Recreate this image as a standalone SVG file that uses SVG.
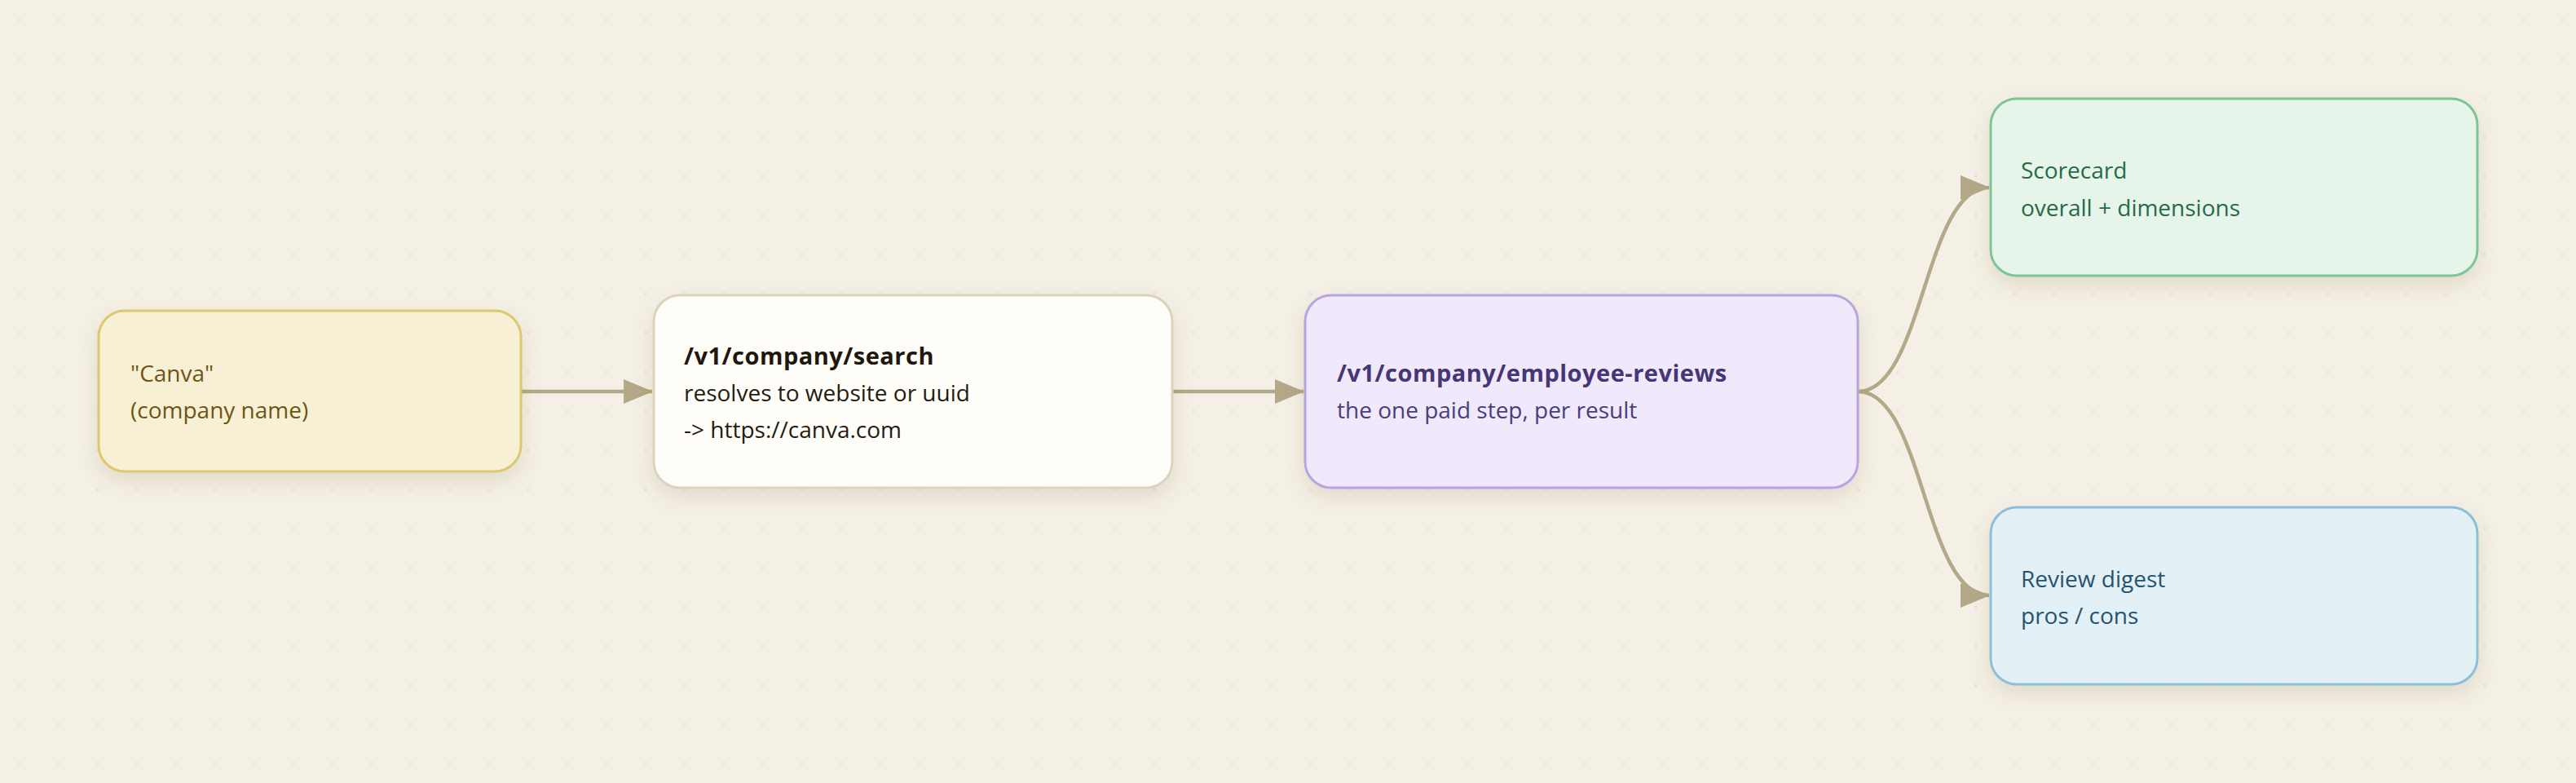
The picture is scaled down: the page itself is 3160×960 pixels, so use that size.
<svg xmlns="http://www.w3.org/2000/svg" width="3160" height="960" viewBox="0 0 3160 960">
<style>
text{font-family:"Open Sans","Noto Sans","DejaVu Sans",sans-serif;font-size:28px}
.t{font-weight:700;font-size:29px;letter-spacing:0.5px}
.edge{fill:none;stroke:#b3a887;stroke-width:4.5}
.node{stroke-width:3}
</style>
<defs>
<pattern id="dots" width="48" height="48" patternUnits="userSpaceOnUse">
<circle cx="24" cy="24" r="1.6" fill="#e3ddce"/>
</pattern>
<filter id="sh" x="-20%" y="-30%" width="140%" height="170%">
<feDropShadow dx="0" dy="10" stdDeviation="12" flood-color="#6b5a30" flood-opacity="0.15"/>
</filter>
<marker id="ah" viewBox="0 0 36 30" refX="35" refY="15" markerWidth="36" markerHeight="30" markerUnits="userSpaceOnUse" orient="auto">
<path d="M0,0 L36,15 L0,30 Z" fill="#b3a887"/>
</marker>
</defs>
<rect width="3160" height="960" fill="#f4f0e6"/>
<rect width="3160" height="960" fill="url(#dots)"/>
<g id="connectors">
<path class="edge" d="M639,480 L800,480" marker-end="url(#ah)"/>
<path class="edge" d="M1438,480 L1599,480" marker-end="url(#ah)"/>
<path class="edge" d="M2279,480 C2360,480 2360,230 2440,230" marker-end="url(#ah)"/>
<path class="edge" d="M2279,480 C2360,480 2360,730 2440,730" marker-end="url(#ah)"/>
</g>
<g id="n-input">
<rect class="node" x="121" y="381" width="518" height="197" rx="32" fill="#f8f0d4" stroke="#dcc870" filter="url(#sh)"/>
<text x="160" y="468" fill="#6e5514">"Canva"</text>
<text x="160" y="513" fill="#6e5514">(company name)</text>
</g>
<g id="n-search">
<rect class="node" x="802" y="362" width="636" height="236" rx="32" fill="#fffdf7" stroke="#dcd3be" filter="url(#sh)"/>
<text class="t" x="839" y="447" fill="#1e1710">/v1/company/search</text>
<text x="839" y="492" fill="#241c12">resolves to website or uuid</text>
<text x="839" y="537" fill="#241c12">-&gt; https://canva.com</text>
</g>
<g id="n-reviews">
<rect class="node" x="1601" y="362" width="678" height="236" rx="32" fill="#efe9fb" stroke="#b8a4e0" filter="url(#sh)"/>
<text class="t" x="1640" y="468" fill="#463674">/v1/company/employee-reviews</text>
<text x="1640" y="513" fill="#4a3d7a">the one paid step, per result</text>
</g>
<g id="n-scorecard">
<rect class="node" x="2442" y="121" width="597" height="217" rx="32" fill="#e7f4ea" stroke="#7dc597" filter="url(#sh)"/>
<text x="2479" y="219" fill="#266a48">Scorecard</text>
<text x="2479" y="265" fill="#266a48">overall + dimensions</text>
</g>
<g id="n-digest">
<rect class="node" x="2442" y="622" width="597" height="217" rx="32" fill="#e3f0f6" stroke="#8ebfd9" filter="url(#sh)"/>
<text x="2479" y="720" fill="#255470">Review digest</text>
<text x="2479" y="765" fill="#255470">pros / cons</text>
</g>
</svg>
